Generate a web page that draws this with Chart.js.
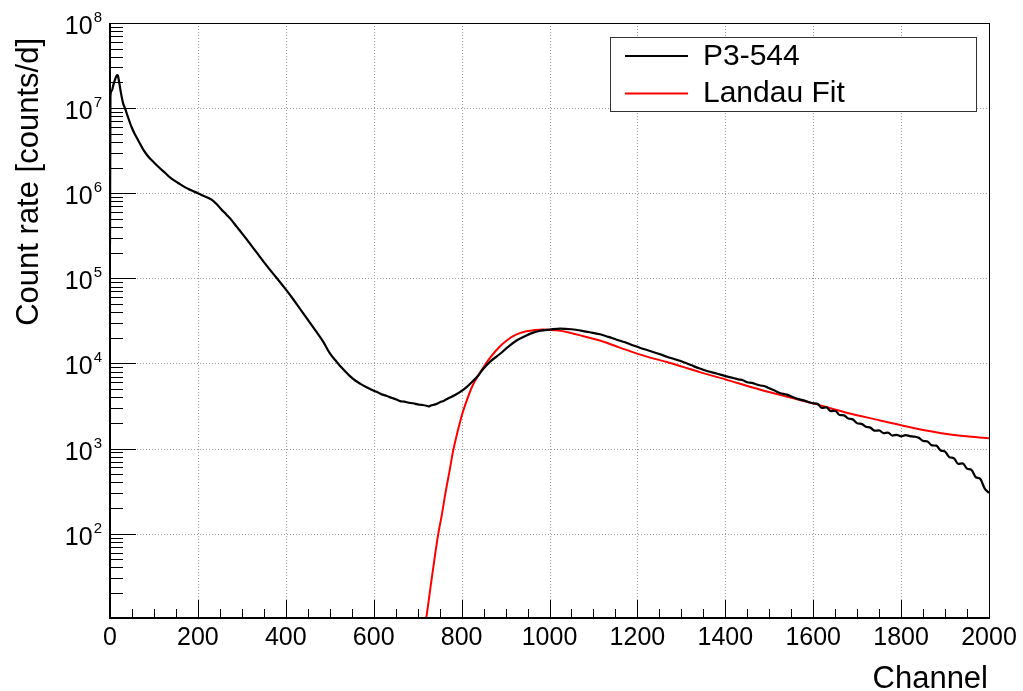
<!DOCTYPE html>
<html>
<head>
<meta charset="utf-8">
<script src="https://cdn.jsdelivr.net/npm/chart.js@4"></script>
<style>
  html, body { margin: 0; padding: 0; background: #ffffff; }
  #wrap { width: 1023px; height: 691px; }
</style>
</head>
<body>
<div id="wrap"><canvas id="c" width="1023" height="691"></canvas></div>
<script>
// ---------------- data ----------------
const seriesName = 'P3-544';
const fitName = 'Landau Fit';
const xTitle = 'Channel';
const yTitle = 'Count rate [counts/d]';

const histChannels = [
  0, 1, 4, 8, 12, 16, 18, 21, 25, 30, 34, 40, 49, 56, 64, 75, 87, 100, 110, 125,
  140, 155, 171, 185, 200, 215, 231, 243, 254, 265, 277, 288, 300, 318, 334, 352, 372, 382, 400, 416,
  432, 450, 470, 485, 500, 512, 523, 535, 546, 558, 570, 585, 599, 610, 620, 630, 640, 650, 660, 670,
  680, 690, 700, 710, 720, 725, 730, 740, 751, 760, 770, 783, 796, 810, 827, 838, 849, 865, 887, 905,
  925, 945, 963, 980, 1001, 1024, 1050, 1077, 1096, 1115, 1134, 1153, 1172, 1191, 1210, 1229, 1248, 1267, 1285, 1304,
  1323, 1342, 1360, 1380, 1400, 1420, 1430, 1440, 1450, 1460, 1470, 1480, 1490, 1500, 1512, 1524, 1540, 1560, 1580, 1590,
  1600, 1610, 1620, 1630, 1640, 1650, 1660, 1670, 1680, 1690, 1700, 1710, 1720, 1730, 1740, 1750, 1760, 1770, 1780, 1790,
  1800, 1810, 1820, 1830, 1840, 1850, 1860, 1870, 1880, 1890, 1900, 1910, 1920, 1930, 1940, 1950, 1960, 1970, 1980, 1990,
  2000
];
const histCounts = [
  2.5e5, 1.4e7, 1.6e7, 1.9e7, 2.2e7, 2.45e7, 2.4e7, 2.0e7, 1.5e7, 1.13e7, 1.0e7, 8.1e6, 6.0e6, 5.0e6, 4.2e6, 3.3e6, 2.7e6, 2.3e6, 2.05e6, 1.74e6,
  1.48e6, 1.32e6, 1.17e6, 1.08e6, 1.0e6, 9.2e5, 8.4e5, 7.4e5, 6.4e5, 5.6e5, 4.8e5, 4.05e5, 3.4e5, 2.57e5, 2.0e5, 1.51e5, 1.12e5, 9.7e4, 7.4e4, 5.75e4,
  4.4e4, 3.27e4, 2.34e4, 1.8e4, 1.32e4, 1.1e4, 9.4e3, 8.1e3, 7.1e3, 6.3e3, 5.75e3, 5.2e3, 4.8e3, 4.55e3, 4.3e3, 4.15e3, 3.95e3, 3.8e3, 3.6e3, 3.55e3,
  3.45e3, 3.4e3, 3.3e3, 3.25e3, 3.18e3, 3.12e3, 3.2e3, 3.3e3, 3.5e3, 3.65e3, 3.9e3, 4.2e3, 4.6e3, 5.2e3, 6.3e3, 7.2e3, 8.6e3, 1.05e4, 1.29e4, 1.55e4,
  1.86e4, 2.1e4, 2.3e4, 2.43e4, 2.5e4, 2.57e4, 2.52e4, 2.4e4, 2.3e4, 2.2e4, 2.05e4, 1.9e4, 1.77e4, 1.62e4, 1.5e4, 1.4e4, 1.3e4, 1.2e4, 1.12e4, 1.04e4,
  9.5e3, 8.7e3, 8.1e3, 7.6e3, 7.1e3, 6.7e3, 6.5e3, 6.35e3, 6.0e3, 5.9e3, 5.7e3, 5.5e3, 5.4e3, 5.1e3, 4.8e3, 4.5e3, 4.3e3, 3.9e3, 3.65e3, 3.5e3,
  3.4e3, 3.35e3, 3.0e3, 3.05e3, 2.75e3, 2.78e3, 2.48e3, 2.45e3, 2.25e3, 2.2e3, 1.98e3, 1.95e3, 1.8e3, 1.76e3, 1.62e3, 1.63e3, 1.52e3, 1.54e3, 1.42e3, 1.45e3,
  1.39e3, 1.44e3, 1.4e3, 1.38e3, 1.34e3, 1.23e3, 1.21e3, 1.09e3, 1.08e3, 950, 920, 790, 770, 660, 670, 580, 560, 460, 440, 340,
  300
];

const fitChannels = [
  712, 720, 730, 740, 747, 755, 763, 772, 781, 790, 800, 812, 825, 837, 849, 865, 887, 905, 925, 945,
  963, 985, 1001, 1020, 1039, 1077, 1115, 1153, 1191, 1229, 1267, 1304, 1342, 1400, 1460, 1524, 1600, 1676, 1752, 1828,
  1904, 2000
];
const fitCounts = [
  6, 10.5, 25, 58, 100, 166, 295, 525, 955, 1510, 2400, 3700, 5500, 7100, 8900, 1.17e4, 1.58e4, 1.9e4, 2.19e4, 2.37e4,
  2.45e4, 2.51e4, 2.48e4, 2.43e4, 2.34e4, 2.09e4, 1.86e4, 1.58e4, 1.35e4, 1.17e4, 1.04e4, 9100, 7900, 6500, 5250, 4270, 3390, 2630, 2140, 1740,
  1480, 1320
];

const xTickValues = [0, 200, 400, 600, 800, 1000, 1200, 1400, 1600, 1800, 2000];
const xTickLabels = ['0', '200', '400', '600', '800', '1000', '1200', '1400', '1600', '1800', '2000'];
const yTickValues = [1e2, 1e3, 1e4, 1e5, 1e6, 1e7, 1e8];
const yTickExponents = ['2', '3', '4', '5', '6', '7', '8'];

// ---------------- style ----------------
const FONT = '"Liberation Sans", Arial, Helvetica, sans-serif';

function hline(ctx, x1, y1, x2, y2) {
  ctx.beginPath(); ctx.moveTo(x1, y1); ctx.lineTo(x2, y2); ctx.stroke();
}

const rootStyle = {
  id: 'rootStyle',
  beforeDraw(chart) {
    const ctx = chart.ctx;
    ctx.save();
    ctx.fillStyle = '#ffffff';
    ctx.fillRect(0, 0, chart.width, chart.height);
    ctx.restore();
  },
  beforeDatasetsDraw(chart) {
    const { ctx, chartArea: a, scales: { x, y } } = chart;
    ctx.save();
    ctx.strokeStyle = '#9a9a9a';
    ctx.lineWidth = 1;
    ctx.setLineDash([1, 2]);
    xTickValues.forEach(v => {
      const px = Math.round(x.getPixelForValue(v)) + 0.5;
      if (px > a.left + 2 && px < a.right - 2) hline(ctx, px, a.top, px, a.bottom);
    });
    yTickValues.forEach(v => {
      const py = Math.round(y.getPixelForValue(v)) + 0.5;
      if (py > a.top + 2 && py < a.bottom - 2) hline(ctx, a.left, py, a.right, py);
    });
    ctx.restore();
  },
  afterDraw(chart) {
    const { ctx, chartArea: a, scales: { x, y } } = chart;
    ctx.save();
    ctx.setLineDash([]);
    ctx.strokeStyle = '#000000';
    ctx.lineWidth = 1;
    // x ticks (inside)
    for (let v = x.min; v <= x.max + 1e-6; v += 50) {
      const px = Math.round(x.getPixelForValue(v)) + 0.5;
      const major = (v % 200) === 0;
      hline(ctx, px, a.bottom, px, a.bottom - (major ? 18 : 9));
    }
    // y ticks (inside)
    for (let d = 1; d < 1e9; d *= 10) {
      for (let k = 1; k <= 9; k++) {
        const v = k * d;
        if (v < y.min || v > y.max) continue;
        const py = Math.round(y.getPixelForValue(v)) + 0.5;
        hline(ctx, a.left, py, a.left + (k === 1 ? 26 : 13), py);
      }
    }
    // frame
    ctx.lineWidth = 1;
    ctx.strokeRect(Math.round(a.left) + 0.5, Math.round(a.top) + 0.5, Math.round(a.right - a.left), Math.round(a.bottom - a.top));
    ctx.lineWidth = 2;
    hline(ctx, a.left, a.top, a.left, a.bottom + 1);
    hline(ctx, a.left - 1, a.bottom, a.right, a.bottom);

    // x tick labels
    ctx.fillStyle = '#000000';
    ctx.font = '25px ' + FONT;
    ctx.textAlign = 'center';
    ctx.textBaseline = 'alphabetic';
    xTickValues.forEach((v, i) => {
      ctx.fillText(xTickLabels[i], x.getPixelForValue(v), a.bottom + 27);
    });
    // y tick labels 10^n
    yTickValues.forEach((v, i) => {
      const py = y.getPixelForValue(v);
      ctx.font = '15px ' + FONT;
      ctx.textAlign = 'right';
      const ew = ctx.measureText(yTickExponents[i]).width;
      ctx.fillText(yTickExponents[i], a.left - 8, py - 1);
      ctx.font = '25px ' + FONT;
      ctx.fillText('10', a.left - 9 - ew, py + 11);
    });
    // axis titles
    ctx.font = '31px ' + FONT;
    ctx.textAlign = 'right';
    ctx.fillText(xTitle, a.right - 1, 688);
    ctx.save();
    ctx.translate(38, 38);
    ctx.rotate(-Math.PI / 2);
    ctx.textAlign = 'right';
    ctx.fillText(yTitle, 0, 0);
    ctx.restore();

    // legend
    const lx = 610.5, ly = 37.5, lw = 366, lh = 74;
    ctx.fillStyle = '#ffffff';
    ctx.fillRect(lx, ly, lw, lh);
    ctx.strokeStyle = '#333333';
    ctx.lineWidth = 1;
    ctx.strokeRect(lx, ly, lw, lh);
    const items = [
      { label: seriesName, color: chart.data.datasets[0].borderColor, yl: 56, yt: 65 },
      { label: fitName, color: chart.data.datasets[1].borderColor, yl: 93.5, yt: 101.5 }
    ];
    items.forEach(it => {
      ctx.strokeStyle = it.color;
      ctx.lineWidth = 2;
      hline(ctx, 625, it.yl, 688, it.yl);
      ctx.fillStyle = '#000000';
      ctx.font = '30px ' + FONT;
      ctx.textAlign = 'left';
      ctx.fillText(it.label, 703, it.yt);
    });
    ctx.restore();
  }
};

new Chart(document.getElementById('c'), {
  type: 'line',
  data: {
    datasets: [
      {
        label: seriesName,
        data: histChannels.map((c, i) => ({ x: c, y: histCounts[i] })),
        borderColor: '#000000',
        borderWidth: 2.2,
        pointRadius: 0,
        cubicInterpolationMode: 'monotone',
        fill: false
      },
      {
        label: fitName,
        data: fitChannels.map((c, i) => ({ x: c, y: fitCounts[i] })),
        borderColor: '#ff0000',
        borderWidth: 2,
        pointRadius: 0,
        cubicInterpolationMode: 'monotone',
        fill: false
      }
    ]
  },
  options: {
    responsive: false,
    animation: false,
    devicePixelRatio: 1,
    layout: { padding: { left: 110, right: 34, top: 23, bottom: 73 } },
    plugins: { legend: { display: false }, tooltip: { enabled: false } },
    scales: {
      x: { type: 'linear', min: 0, max: 2000, display: false },
      y: { type: 'logarithmic', min: 10.2, max: 1e8, display: false }
    }
  },
  plugins: [rootStyle]
});
</script>
</body>
</html>
